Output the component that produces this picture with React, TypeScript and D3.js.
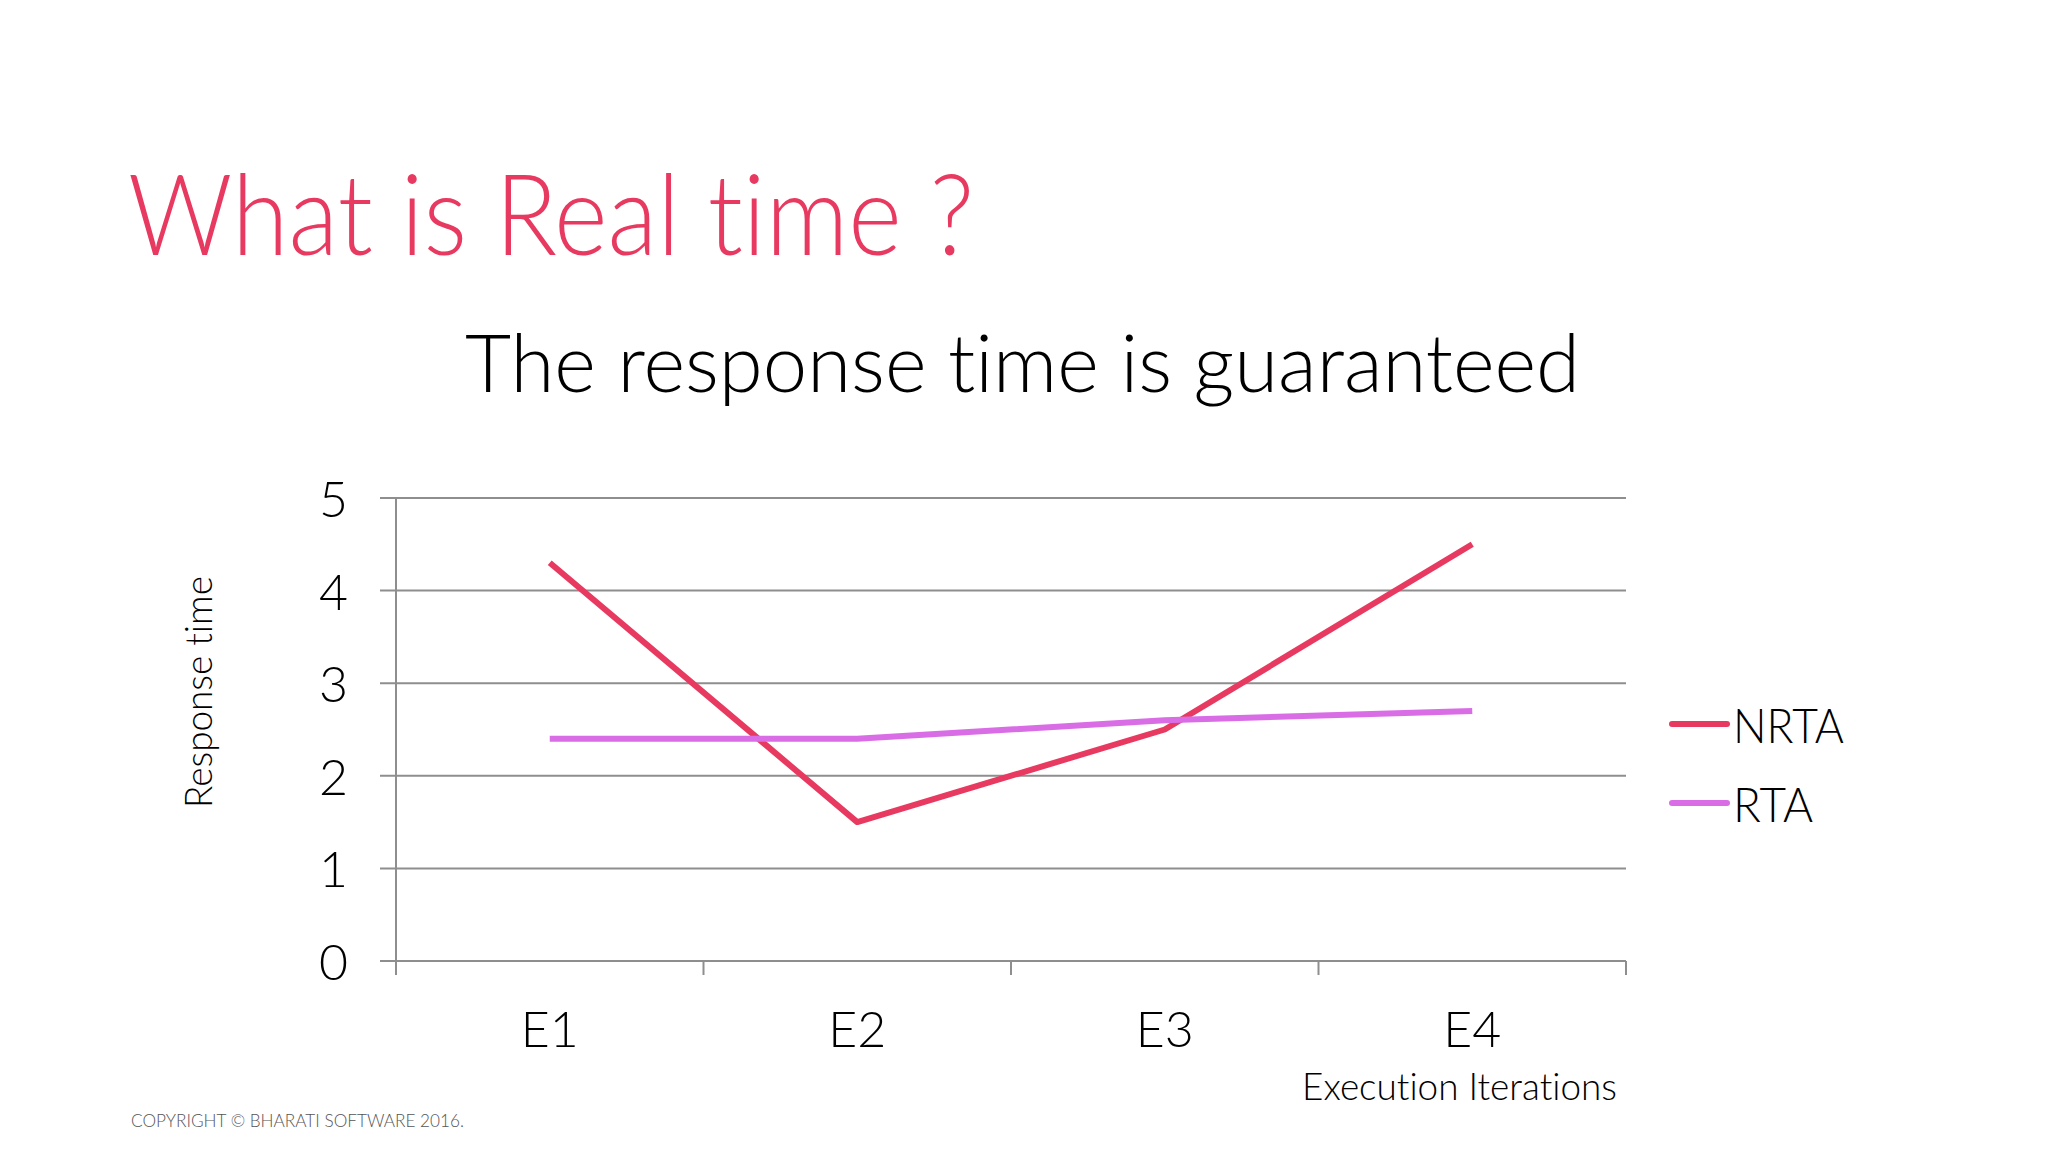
import React from "react";
import * as d3 from "d3";

const categories = ["E1", "E2", "E3", "E4"];
const nrtaValues = [4.3, 1.5, 2.5, 4.5];
const rtaValues = [2.4, 2.4, 2.6, 2.7];
const yTicks = [0, 1, 2, 3, 4, 5];
const seriesNames = ["NRTA", "RTA"];
const seriesColors = ["#E83A60", "#D96DE6"];

const W = 2048;
const H = 1152;
const left = 396;
const right = 1626;
const top = 498;
const bottom = 961;
const FONT = "Lato, 'Open Sans', sans-serif";

export default function App() {
  const x = d3.scaleBand<string>().domain(categories).range([left, right]).padding(0);
  const y = d3.scaleLinear().domain([0, 5]).range([bottom, top]);
  const line = d3
    .line<number>()
    .x((_, i) => (x(categories[i]) as number) + x.bandwidth() / 2)
    .y((d) => y(d));
  const series = [nrtaValues, rtaValues];
  const tickXs = [...categories.map((c) => x(c) as number), right];
  const grid = "#8E8E8E";

  return (
    <svg
      width={W}
      height={H}
      viewBox={`0 0 ${W} ${H}`}
      style={{ position: "absolute", left: 0, top: 0, background: "#FFFFFF", fontVariantLigatures: "none" }}
    >
      <rect x={0} y={0} width={W} height={H} fill="#FFFFFF" />
      <text
        x={128}
        y={255}
        fontFamily={FONT}
        fontWeight={300}
        fontSize={112}
        fill="#E83A60"
        textLength={846}
        lengthAdjust="spacingAndGlyphs"
      >
        What is Real time ?
      </text>
      <text
        x={465}
        y={392}
        fontFamily={FONT}
        fontWeight={300}
        fontSize={80}
        fill="#000"
        textLength={1115}
        lengthAdjust="spacingAndGlyphs"
      >
        The response time is guaranteed
      </text>

      {yTicks.map((t) => (
        <line key={"g" + t} x1={380} x2={right} y1={y(t)} y2={y(t)} stroke={grid} strokeWidth={2} />
      ))}
      <line x1={left} x2={left} y1={top} y2={975} stroke={grid} strokeWidth={2} />
      {tickXs.map((tx, i) => (
        <line key={"t" + i} x1={tx} x2={tx} y1={bottom} y2={975} stroke={grid} strokeWidth={2} />
      ))}
      {yTicks.map((t) => (
        <text
          key={"yl" + t}
          x={348}
          y={y(t)}
          textAnchor="end"
          dominantBaseline="central"
          fontFamily={FONT}
          fontWeight={300}
          fontSize={50}
          fill="#000"
        >
          {t}
        </text>
      ))}
      {categories.map((c) => (
        <text
          key={"xl" + c}
          x={(x(c) as number) + x.bandwidth() / 2}
          y={1028}
          textAnchor="middle"
          dominantBaseline="central"
          fontFamily={FONT}
          fontWeight={300}
          fontSize={50}
          fill="#000"
        >
          {c}
        </text>
      ))}
      <text
        x={1617}
        y={1100}
        textAnchor="end"
        fontFamily={FONT}
        fontWeight={300}
        fontSize={37}
        fill="#000"
        textLength={315}
        lengthAdjust="spacingAndGlyphs"
      >
        Execution Iterations
      </text>
      <text
        transform={`translate(212, 692) rotate(-90)`}
        textAnchor="middle"
        fontFamily={FONT}
        fontWeight={300}
        fontSize={37}
        fill="#000"
        textLength={232}
        lengthAdjust="spacingAndGlyphs"
      >
        Response time
      </text>

      {series.map((vals, i) => (
        <path
          key={"s" + i}
          d={line(vals) as string}
          fill="none"
          stroke={seriesColors[i]}
          strokeWidth={6}
          strokeLinejoin="round"
        />
      ))}

      {seriesNames.map((n, i) => (
        <g key={"lg" + n}>
          <line
            x1={1672}
            x2={1727}
            y1={724 + i * 79}
            y2={724 + i * 79}
            stroke={seriesColors[i]}
            strokeWidth={6}
            strokeLinecap="round"
          />
          <text
            x={1733}
            y={724 + i * 79}
            dominantBaseline="central"
            fontFamily={FONT}
            fontWeight={300}
            fontSize={48}
            fill="#000"
            textLength={i === 0 ? 111 : 80}
            lengthAdjust="spacingAndGlyphs"
          >
            {n}
          </text>
        </g>
      ))}

      <text
        x={131}
        y={1127}
        fontFamily={FONT}
        fontWeight={300}
        fontSize={17}
        fill="#555"
        textLength={333}
        lengthAdjust="spacingAndGlyphs"
      >
        COPYRIGHT © BHARATI SOFTWARE 2016.
      </text>
    </svg>
  );
}
